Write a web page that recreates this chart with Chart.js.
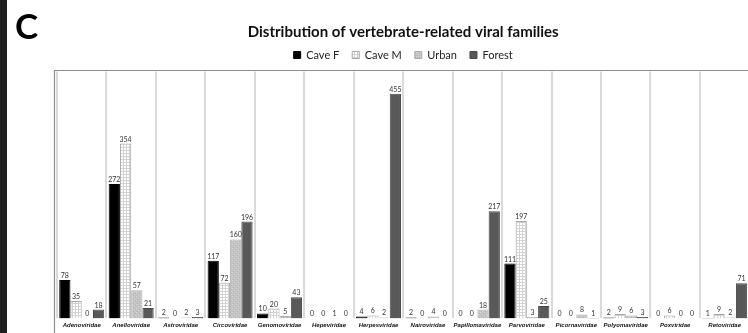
<!DOCTYPE html>
<html>
<head>
<meta charset="utf-8">
<script src="https://cdn.jsdelivr.net/npm/chart.js@4.4.1/dist/chart.umd.min.js"></script>
<style>
  html, body { margin: 0; padding: 0; overflow: hidden; background: #fff; width: 748px; height: 333px; }
  #wrap { position: relative; width: 748px; height: 333px; overflow: hidden; }
  #strip { position: absolute; left: 0; top: 0; width: 7px; height: 333px; background: #1f1f1f; }
  #panel { position: absolute; left: 15px; top: 4px; font: bold 35px/42px Lato, sans-serif; color: #000; }
  canvas { position: absolute; left: 0; top: 0; }
</style>
</head>
<body>
<div id="wrap">
  <canvas id="chart" width="812" height="333"></canvas>
  <div id="strip"></div>
  <div id="panel">C</div>
</div>
<script>
// Viral families (x categories)
const families = ['Adenoviridae', 'Anelloviridae', 'Astroviridae', 'Circoviridae', 'Genomoviridae',
  'Hepeviridae', 'Herpesviridae', 'Nairoviridae', 'Papillomaviridae', 'Parvoviridae',
  'Picornaviridae', 'Polyomaviridae', 'Poxviridae', 'Retoviridae'];

// Read counts per sampling site
const caveF  = [78, 272, 2, 117, 10, 0, 4, 2, 0, 111, 0, 2, 0, 1];
const caveM  = [35, 354, 0, 72, 20, 0, 6, 0, 0, 197, 0, 9, 6, 9];
const urban  = [0, 57, 2, 160, 5, 1, 2, 4, 18, 3, 8, 6, 0, 2];
const forest = [18, 21, 3, 196, 43, 0, 455, 0, 217, 25, 1, 3, 0, 71];

const seriesNames = ['Cave F', 'Cave M', 'Urban', 'Forest'];
const yMax = 500;

// Small fill patterns for the hatched series
function gridPattern() {
  const c = document.createElement('canvas');
  c.width = 3; c.height = 3;
  const g = c.getContext('2d');
  g.fillStyle = '#ffffff'; g.fillRect(0, 0, 3, 3);
  g.fillStyle = '#d2d2d2';
  g.fillRect(0, 0, 3, 1);
  g.fillRect(0, 0, 1, 3);
  return g.createPattern(c, 'repeat');
}
function dotPattern() {
  const c = document.createElement('canvas');
  c.width = 4; c.height = 4;
  const g = c.getContext('2d');
  g.fillStyle = '#c4c4c4'; g.fillRect(0, 0, 4, 4);
  g.fillStyle = '#d6d6d6';
  g.fillRect(0, 0, 1, 1); g.fillRect(2, 2, 1, 1);
  g.fillStyle = '#b4b4b4';
  g.fillRect(1, 3, 1, 1); g.fillRect(3, 1, 1, 1);
  return g.createPattern(c, 'repeat');
}

// Value printed above every bar
const valueLabels = {
  id: 'valueLabels',
  afterDatasetsDraw(chart) {
    const { ctx } = chart;
    ctx.save();
    ctx.font = '7px Lato, sans-serif';
    ctx.fillStyle = '#333333';
    ctx.textAlign = 'center';
    ctx.textBaseline = 'alphabetic';
    chart.data.datasets.forEach((ds, i) => {
      chart.getDatasetMeta(i).data.forEach((bar, j) => {
        ctx.fillText(String(ds.data[j]), bar.x, bar.y - 2);
      });
    });
    ctx.restore();
  }
};

// Plot-area border (left and top edges)
const plotFrame = {
  id: 'plotFrame',
  afterDraw(chart) {
    const { ctx, chartArea } = chart;
    const x = Math.round(chartArea.left) - 3 + 0.5;
    const y = Math.round(chartArea.top) - 2 + 0.5;
    ctx.save();
    ctx.strokeStyle = '#8e8e8e';
    ctx.lineWidth = 1.2;
    ctx.beginPath();
    ctx.moveTo(x, chart.height);
    ctx.lineTo(x, y);
    ctx.lineTo(chart.width, y);
    ctx.stroke();
    ctx.restore();
  }
};

// Extra gap between legend and plot
const legendGap = {
  id: 'legendGap',
  beforeLayout(chart) {
    const legend = chart.legend;
    if (legend && !legend._gapPatched) {
      const fit = legend.fit;
      legend.fit = function () {
        fit.call(this);
        this.height += 1;
      };
      legend._gapPatched = true;
    }
  }
};

const ctx = document.getElementById('chart').getContext('2d');
new Chart(ctx, {
  type: 'bar',
  data: {
    labels: families,
    datasets: [
      { label: seriesNames[0], data: caveF, backgroundColor: '#000000', borderColor: '#000000', borderWidth: 1 },
      { label: seriesNames[1], data: caveM, backgroundColor: gridPattern(), borderColor: '#a8a8a8', borderWidth: 1 },
      { label: seriesNames[2], data: urban, backgroundColor: dotPattern(), borderColor: '#adadad', borderWidth: 1 },
      { label: seriesNames[3], data: forest, backgroundColor: '#595959', borderColor: '#474747', borderWidth: 1 }
    ]
  },
  options: {
    responsive: false,
    devicePixelRatio: 1,
    animation: false,
    layout: { padding: { left: 57, right: 62.6, top: 0, bottom: 0 } },
    datasets: {
      bar: { categoryPercentage: 0.91, barPercentage: 1.0, borderSkipped: 'start' }
    },
    plugins: {
      title: {
        display: true,
        text: 'Distribution of vertebrate-related viral families',
        color: '#111111',
        font: { family: 'Lato, sans-serif', size: 15, weight: 'bold', lineHeight: 1.2 },
        padding: { top: 23, bottom: -4.5 }
      },
      legend: {
        display: true,
        position: 'top',
        labels: {
          boxWidth: 7,
          boxHeight: 7,
          padding: 13,
          color: '#222222',
          font: { family: 'Lato, sans-serif', size: 11 }
        }
      },
      tooltip: { enabled: false }
    },
    scales: {
      x: {
        grid: { display: true, offset: true, color: '#dadada', lineWidth: 2, drawTicks: false },
        border: { display: false },
        ticks: {
          autoSkip: false,
          maxRotation: 0,
          minRotation: 0,
          padding: 4,
          color: '#111111',
          font: { family: '"Liberation Sans", Arial, sans-serif', size: 6, style: 'italic', weight: 'bold', lineHeight: 1.1 }
        }
      },
      y: {
        display: false,
        min: 0,
        max: yMax
      }
    }
  },
  plugins: [legendGap, valueLabels, plotFrame]
});
</script>
</body>
</html>
